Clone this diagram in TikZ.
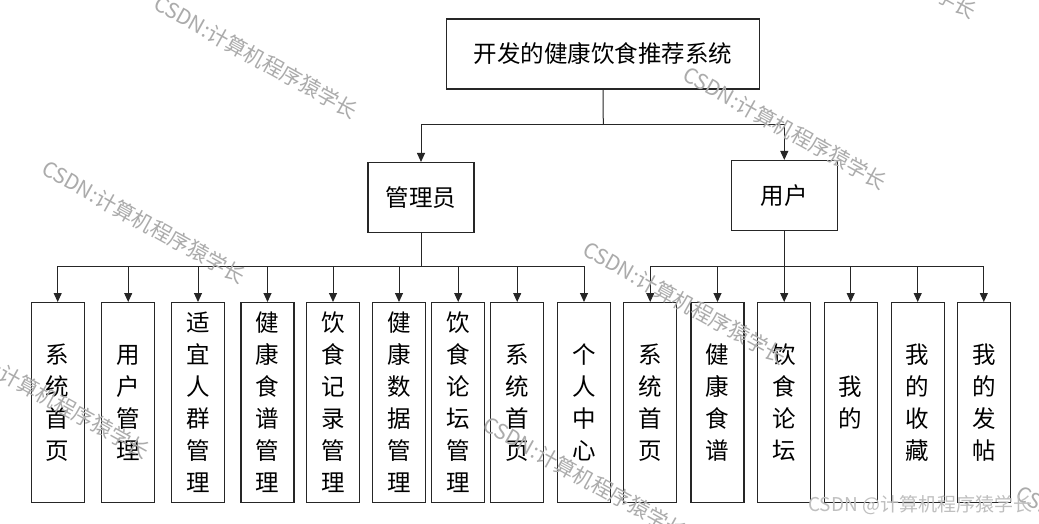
\documentclass[tikz,border=0pt]{standalone}
\usepackage{fontspec}
\newfontfamily\cjk{Noto Sans CJK SC}
\usetikzlibrary{arrows.meta}
\tikzset{
  box/.style={draw=black!85, line width=1.1pt, inner sep=0pt, align=center,
              font=\cjk\fontsize{23.5}{32}\selectfont},
  vbox/.style={box, minimum width=53pt, minimum height=200pt, anchor=north},
  arr/.style={draw=black!85, line width=1pt, -{Triangle[length=9pt,width=8pt]}},
  ln/.style={draw=black!85, line width=1pt},
  wm/.style={text=black!33, rotate=-29, font=\cjk\fontsize{21}{21}\selectfont, inner sep=0pt},
}
\begin{document}
\begin{tikzpicture}[x=1pt,y=-1pt]
\useasboundingbox (0,0) rectangle (1039,524);
\fill[white] (0,0) rectangle (1039,524);
% top levels
\node[box, minimum width=313pt, minimum height=70pt] (top) at (603,54) {开发的健康饮食推荐系统};
\node[box, minimum width=106pt, minimum height=70pt] (admin) at (421,197.5) {管理员};
\node[box, minimum width=106pt, minimum height=70pt] (user) at (784.3,195.5) {用户};
% admin children
\node[vbox] (a1) at (57.7,302) {系\\统\\首\\页};
\node[vbox] (a2) at (128.2,302) {用\\户\\管\\理};
\node[vbox] (a3) at (198,302) {适\\宜\\人\\群\\管\\理};
\node[vbox] (a4) at (267.5,302) {健\\康\\食\\谱\\管\\理};
\node[vbox] (a5) at (333,302) {饮\\食\\记\\录\\管\\理};
\node[vbox] (a6) at (399,302) {健\\康\\数\\据\\管\\理};
\node[vbox] (a7) at (458.2,302) {饮\\食\\论\\坛\\管\\理};
\node[vbox] (a8) at (517.2,302) {系\\统\\首\\页};
\node[vbox] (a9) at (584,302) {个\\人\\中\\心};
% user children
\node[vbox] (u1) at (650.2,302) {系\\统\\首\\页};
\node[vbox] (u2) at (717.5,302) {健\\康\\食\\谱};
\node[vbox] (u3) at (784.2,302) {饮\\食\\论\\坛};
\node[vbox] (u4) at (850.7,302) {我\\的};
\node[vbox] (u5) at (917.7,302) {我\\的\\收\\藏};
\node[vbox] (u6) at (983.8,302) {我\\的\\发\\帖};
% buses
\coordinate (bus1) at (603.3,125);
\coordinate (bus2) at (421,266);
\coordinate (bus3) at (784.3,266);
\draw[ln] (top.south) -- (bus1);
\draw[arr] (bus1) -| (admin.north);
\draw[arr] (bus1) -| (user.north);
\draw[ln] (admin.south) -- (bus2);
\foreach \n in {a1,a2,a3,a4,a5,a6,a7,a8,a9} \draw[arr] (bus2) -| (\n.north);
\draw[ln] (user.south) -- (bus3);
\foreach \n in {u1,u2,u3,u4,u5,u6} \draw[arr] (bus3) -| (\n.north);
% watermarks
\begin{scope}
\clip (0,0) rectangle (1039,524);
\node[wm] (w1) at (256,57) {CSDN:计算机程序猿学长};
\node[wm] (w2) at (144,222) {CSDN:计算机程序猿学长};
\node[wm] (w3) at (785,128) {CSDN:计算机程序猿学长};
\node[wm] (w4) at (685,303) {CSDN:计算机程序猿学长};
\node[wm] (w5) at (48,397) {CSDN:计算机程序猿学长};
\node[wm] (w6) at (585,478) {CSDN:计算机程序猿学长};
\node[wm] (w7) at (875,-43) {CSDN:计算机程序猿学长};
\node[wm] (w8) at (1118,547) {CSDN:计算机程序猿学长};
\node[text=black!25, font=\cjk\fontsize{19}{19}\selectfont, inner sep=0pt, anchor=west] (w9) at (808,505) {CSDN @计算机程序猿学长};
\end{scope}
\end{tikzpicture}
\end{document}
